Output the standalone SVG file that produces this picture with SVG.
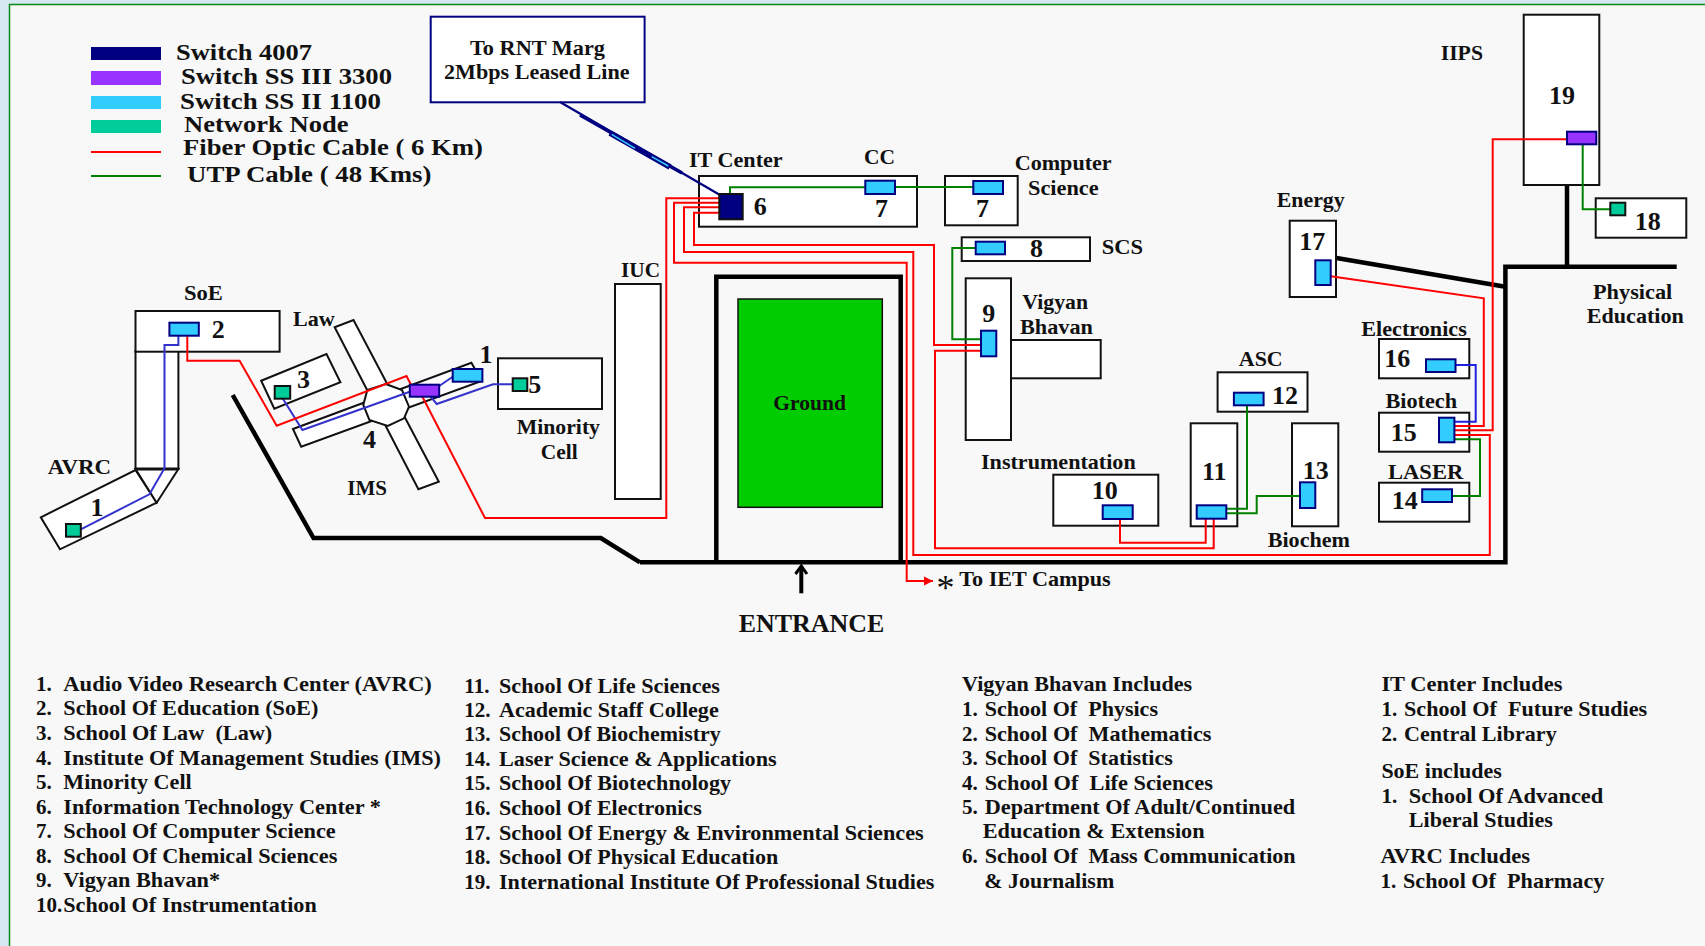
<svg xmlns="http://www.w3.org/2000/svg" width="1705" height="946" viewBox="0 0 1705 946">
<style>
text{font-family:"Liberation Serif","Times New Roman",serif;font-weight:700;fill:#111;white-space:pre}
.b{fill:#fff;stroke:#111;stroke-width:2}
.l{font-size:21px}.n{font-size:26px}.lg{font-size:23px}.en{font-size:25px}.t{font-size:21px}
.sw{fill:#33ccff;stroke:#000080;stroke-width:2}
.pu{fill:#9933ff;stroke:#000080;stroke-width:2}
.nd{fill:#00cc99;stroke:#111;stroke-width:2}
.r,.g,.u,.k{fill:none}
.r{stroke:#ff0000;stroke-width:2}
.g{stroke:#008000;stroke-width:2}
.u{stroke:#3333cc;stroke-width:2}
.k{stroke:#000;stroke-width:4.5}
</style>
<defs>
<marker id="redhead" markerUnits="userSpaceOnUse" markerWidth="10" markerHeight="10" refX="9" refY="5" orient="auto"><path d="M0,0.5 L9,5 L0,9.5 Z" fill="#ff0000"/></marker>
</defs>
<rect id="backdrop" width="1705" height="946" fill="#d5e9f3"/>
<rect id="panel" x="9.5" y="4.5" width="1700" height="946" fill="#f8f8f8" stroke="#0a8a1a" stroke-width="1.5"/>

<g id="legend">
<rect x="91" y="47" width="70" height="13" fill="#000080"/>
<rect x="91" y="71" width="70" height="14" fill="#9933ff"/>
<rect x="91" y="96" width="70" height="13" fill="#33ccff"/>
<rect x="91" y="120" width="70" height="13" fill="#00cc99"/>
<line x1="91" y1="152" x2="161" y2="152" stroke="#ff0000" stroke-width="2"/>
<line x1="91" y1="176" x2="161" y2="176" stroke="#008000" stroke-width="2"/>
<text class="lg" x="176" y="59.5" textLength="136" lengthAdjust="spacingAndGlyphs">Switch 4007</text>
<text class="lg" x="181" y="83.5" textLength="211" lengthAdjust="spacingAndGlyphs">Switch SS III 3300</text>
<text class="lg" x="180" y="108.5" textLength="201" lengthAdjust="spacingAndGlyphs">Switch SS II 1100</text>
<text class="lg" x="184" y="131.5" textLength="164.5" lengthAdjust="spacingAndGlyphs">Network Node</text>
<text class="lg" x="183" y="154.5" textLength="300" lengthAdjust="spacingAndGlyphs">Fiber Optic Cable ( 6 Km)</text>
<text class="lg" x="187" y="182" textLength="244.5" lengthAdjust="spacingAndGlyphs">UTP Cable ( 48 Kms)</text>
</g>

<g id="roads">
<polyline class="k" points="232.7,395 313.5,538 600.8,538 640,562.3"/>
<polyline class="k" points="716.3,562 716.3,276.7 900.7,276.7 900.7,562"/>
<polyline class="k" points="640,562.3 1505.4,562.3 1505.4,266.7 1676.7,266.7"/>
<line class="k" x1="1567" y1="183" x2="1567" y2="266.7"/>
<line class="k" x1="1335" y1="257.7" x2="1505.4" y2="286.7"/>
</g>

<g id="rnt">
<rect x="430.7" y="16.7" width="213.9" height="85.6" fill="#fff" stroke="#000080" stroke-width="2"/>
<text class="l" x="470" y="55" textLength="135" lengthAdjust="spacingAndGlyphs">To RNT Marg</text>
<text class="l" x="444" y="79" textLength="185.5" lengthAdjust="spacingAndGlyphs">2Mbps Leased Line</text>
</g>

<g id="n1-avrc">
<polygon class="b" points="135.5,470 156.7,502.7 60,549.3 40.8,517.3"/>
<text class="n" x="90.6" y="515.7">1</text>
<text class="l" x="47.8" y="474" textLength="63.2" lengthAdjust="spacingAndGlyphs">AVRC</text>
</g>
<g id="n2-soe">
<rect class="b" x="135.5" y="351" width="42.9" height="118"/>
<polygon class="b" points="135.5,469 178.4,469 156.7,502.7"/>
<line x1="135.5" y1="469" x2="178.4" y2="469" stroke="#111" stroke-width="3"/>
<rect class="b" x="135.5" y="311" width="144.1" height="40.7"/>
<text class="n" x="211.8" y="338.3">2</text>
<text class="l" x="184" y="300" textLength="38.9" lengthAdjust="spacingAndGlyphs">SoE</text>
</g>
<g id="n3-law">
<polygon class="b" points="261.2,380.7 326.5,354 340.4,382.3 274.3,408.7"/>
<text class="n" x="297" y="387.7">3</text>
<text class="l" x="293" y="326" textLength="41.7" lengthAdjust="spacingAndGlyphs">Law</text>
</g>
<g id="n4-ims">
<polygon class="b" points="334.7,327.3 353.5,320 438.8,481.7 418.4,489.3"/>
<polygon class="b" points="293,429 471.4,362.7 481.6,381 301.2,446.7"/>
<polygon class="b" points="385.7,384 402,390 409,406.7 404,418.3 387.8,426 369.4,420 363.3,405 367.3,390"/>
<text class="n" x="362.9" y="448.3">4</text>
<text class="n" x="479.6" y="363.3">1</text>
<text class="l" x="347.3" y="495" textLength="39.7" lengthAdjust="spacingAndGlyphs">IMS</text>
</g>
<g id="n5-minority">
<rect class="b" x="498" y="358.3" width="104" height="50.7"/>
<text class="n" x="528.2" y="393.3">5</text>
<text class="l" x="516.7" y="434" textLength="83.3" lengthAdjust="spacingAndGlyphs">Minority</text>
<text class="l" x="540.8" y="458.7" textLength="36.8" lengthAdjust="spacingAndGlyphs">Cell</text>
</g>
<g id="iuc">
<rect class="b" x="615" y="284" width="45.7" height="215"/>
<text class="l" x="621" y="277" textLength="39" lengthAdjust="spacingAndGlyphs">IUC</text>
</g>
<g id="n6-it">
<rect class="b" x="699" y="176" width="218" height="50.7"/>
<text class="n" x="753.7" y="215">6</text>
<text class="n" x="875" y="216.7">7</text>
<text class="l" x="689" y="166.7" textLength="93.7" lengthAdjust="spacingAndGlyphs">IT Center</text>
<text class="l" x="864" y="164" textLength="31" lengthAdjust="spacingAndGlyphs">CC</text>
</g>
<g id="n7-cs">
<rect class="b" x="945" y="176" width="72.7" height="49.3"/>
<text class="n" x="976" y="217">7</text>
<text class="l" x="1014.7" y="170" textLength="97" lengthAdjust="spacingAndGlyphs">Computer</text>
<text class="l" x="1028" y="195" textLength="70.7" lengthAdjust="spacingAndGlyphs">Science</text>
</g>
<g id="n8-scs">
<rect class="b" x="961.7" y="237.3" width="128.3" height="23.7"/>
<text class="n" x="1030" y="256.7">8</text>
<text class="l" x="1101.7" y="254" textLength="41.3" lengthAdjust="spacingAndGlyphs">SCS</text>
</g>
<g id="n9-vigyan">
<rect class="b" x="1011" y="340" width="89.7" height="38.3"/>
<rect class="b" x="965.7" y="278.3" width="45.3" height="161.7"/>
<text class="n" x="982.3" y="321.7">9</text>
<text class="l" x="1022.3" y="309.3" textLength="65.7" lengthAdjust="spacingAndGlyphs">Vigyan</text>
<text class="l" x="1020" y="334" textLength="73" lengthAdjust="spacingAndGlyphs">Bhavan</text>
</g>
<g id="n10-instrumentation">
<rect class="b" x="1053.3" y="474.7" width="105" height="51"/>
<text class="n" x="1091.7" y="499">10</text>
<text class="l" x="981" y="469.3" textLength="154.7" lengthAdjust="spacingAndGlyphs">Instrumentation</text>
</g>
<g id="n11-life">
<rect class="b" x="1190.7" y="423.3" width="46.6" height="103"/>
<text class="n" x="1202" y="480">11</text>
</g>
<g id="n12-asc">
<rect class="b" x="1217.6" y="372.3" width="89.9" height="39.4"/>
<text class="n" x="1272" y="404">12</text>
<text class="l" x="1238.8" y="365.7" textLength="43.9" lengthAdjust="spacingAndGlyphs">ASC</text>
</g>
<g id="n13-biochem">
<rect class="b" x="1292" y="423.3" width="46.3" height="103"/>
<text class="n" x="1302.7" y="479.3">13</text>
<text class="l" x="1267.7" y="546.7" textLength="82.3" lengthAdjust="spacingAndGlyphs">Biochem</text>
</g>
<g id="n14-laser">
<rect class="b" x="1379" y="482.7" width="90.3" height="39"/>
<text class="n" x="1391.8" y="509.3">14</text>
<text class="l" x="1388" y="478.7" textLength="75.3" lengthAdjust="spacingAndGlyphs">LASER</text>
</g>
<g id="n15-biotech">
<rect class="b" x="1379" y="412.7" width="90.3" height="39"/>
<text class="n" x="1390.7" y="440.7">15</text>
<text class="l" x="1385.4" y="408.3" textLength="71.6" lengthAdjust="spacingAndGlyphs">Biotech</text>
</g>
<g id="n16-electronics">
<rect class="b" x="1379" y="339" width="90.3" height="39.3"/>
<text class="n" x="1384.3" y="366.7">16</text>
<text class="l" x="1361.3" y="336" textLength="105.5" lengthAdjust="spacingAndGlyphs">Electronics</text>
</g>
<g id="n17-energy">
<rect class="b" x="1289.7" y="220.7" width="46.3" height="76.3"/>
<text class="n" x="1299.3" y="250">17</text>
<text class="l" x="1276.7" y="206.7" textLength="68" lengthAdjust="spacingAndGlyphs">Energy</text>
</g>
<g id="n18-physical">
<rect class="b" x="1595.7" y="198.3" width="90.6" height="39.4"/>
<text class="n" x="1634.7" y="230">18</text>
<text class="l" x="1593" y="298.7" textLength="79.3" lengthAdjust="spacingAndGlyphs">Physical</text>
<text class="l" x="1586.8" y="323.3" textLength="97" lengthAdjust="spacingAndGlyphs">Education</text>
</g>
<g id="n19-iips">
<rect class="b" x="1523.7" y="14.7" width="75.6" height="170.3"/>
<text class="n" x="1549" y="104">19</text>
<text class="l" x="1440.7" y="60" textLength="42.3" lengthAdjust="spacingAndGlyphs">IIPS</text>
</g>
<g id="ground">
<rect x="738" y="299" width="144.3" height="208.3" fill="#00cc00" stroke="#111" stroke-width="1.5"/>
<text class="l" x="773.3" y="410" textLength="72.7" lengthAdjust="spacingAndGlyphs">Ground</text>
</g>
<g id="entrance">
<line x1="801.3" y1="593.3" x2="801.3" y2="566" stroke="#000" stroke-width="4"/>
<polyline points="795.5,574 801.3,566 807,574" fill="none" stroke="#000" stroke-width="3"/>
<text class="en" x="738.7" y="631.8" textLength="145.6" lengthAdjust="spacingAndGlyphs">ENTRANCE</text>
</g>
<g id="iet">
<text x="936.5" y="600" style="font-size:36px;font-weight:400">*</text>
<text class="l" x="959.3" y="586" textLength="151.4" lengthAdjust="spacingAndGlyphs">To IET Campus</text>
</g>

<g id="connectors">
<line x1="560" y1="102" x2="720" y2="195" stroke="#000080" stroke-width="2.2"/>
<line x1="580" y1="115" x2="682" y2="173" stroke="#000080" stroke-width="3.5"/>
<line x1="610" y1="133" x2="670" y2="167" stroke="#000080" stroke-width="6"/>
<line x1="611.7" y1="134.3" x2="635" y2="148.3" stroke="#33ccff" stroke-width="1.5"/>
<line x1="651.7" y1="156.7" x2="668.3" y2="166" stroke="#33ccff" stroke-width="1.5"/>
<polyline class="g" points="730,194 730,187.3 865.3,187.3"/>
<line class="g" x1="895" y1="187" x2="973.3" y2="187"/>
<polyline class="g" points="975.7,248 952.3,248 952.3,339.3 981,339.3"/>
<polyline class="g" points="1226.3,508.7 1247,508.7 1247,405.3"/>
<polyline class="g" points="1226.3,513.3 1256.7,513.3 1256.7,496 1300,496"/>
<polyline class="g" points="1454.4,439.3 1480,439.3 1480,496 1452,496"/>
<polyline class="g" points="1582.7,144.3 1582.7,209.3 1610.3,209.3"/>
<polyline class="u" points="80.8,529.3 149.4,494.3 164.5,468.3 164.5,345 178.4,345 178.4,335.7"/>
<polyline class="u" points="282.9,398.7 302.4,430 409.8,391.7"/>
<line class="u" x1="439.2" y1="386" x2="452.7" y2="376.7"/>
<polyline class="u" points="430.6,396.7 436.7,404 493,384.3 512.7,384.3"/>
<polyline class="u" style="stroke:#2020e0" points="1455.5,365 1475.7,365 1475.7,421.7 1454.4,421.7"/>
<polyline class="r" points="187.3,335.7 187.3,360.7 239.6,360.7 276.7,425.7 406.5,376 411,384.7"/>
<polyline class="r" points="422.4,396.7 485,518 666.3,518 666.3,198.3 719.3,198.3"/>
<polyline class="r" marker-end="url(#redhead)" points="719.3,202.7 674,202.7 674,262.7 906.7,262.7 906.7,581 933,581"/>
<polyline class="r" points="719.3,207.3 684,207.3 684,252 913.3,252 913.3,555 1489.8,555 1489.8,435 1454.4,435"/>
<polyline class="r" points="719.3,212.7 694,212.7 694,245 934,245 934,345 981,345"/>
<polyline class="r" points="981,350.7 935,350.7 935,548.3 1213.7,548.3 1213.7,518.7"/>
<polyline class="r" points="1120,519 1120,542.7 1205.7,542.7 1205.7,518.7"/>
<polyline class="r" points="1454.4,426 1483.8,426 1483.8,298.3 1330.7,276.3"/>
<polyline class="r" points="1454.4,430.3 1492.7,430.3 1492.7,139.3 1567,139.3"/>
</g>

<g id="devices">
<rect id="sw-6" x="719.3" y="194" width="23.4" height="25.3" fill="#000080" stroke="#111" stroke-width="2"/>
<rect id="sw-7a" class="sw" x="865.3" y="180.7" width="29.7" height="13.3"/>
<rect id="sw-7b" class="sw" x="973.3" y="181" width="29.7" height="13"/>
<rect id="sw-8" class="sw" x="975.7" y="241.7" width="29.3" height="12.6"/>
<rect id="sw-9" class="sw" x="981" y="330.7" width="15.3" height="25.6"/>
<rect id="sw-10" class="sw" x="1102.7" y="505.3" width="30" height="13.7"/>
<rect id="sw-11" class="sw" x="1196.7" y="505.3" width="29.6" height="13.4"/>
<rect id="sw-12" class="sw" x="1233.9" y="392.7" width="29.7" height="12.6"/>
<rect id="sw-13" class="sw" x="1300" y="482.3" width="15.3" height="25.7"/>
<rect id="sw-14" class="sw" x="1422.2" y="489.3" width="29.8" height="12.7"/>
<rect id="sw-15" class="sw" x="1439" y="417.7" width="15.4" height="24.6"/>
<rect id="sw-16" class="sw" x="1426" y="359.3" width="29.5" height="12.7"/>
<rect id="sw-17" class="sw" x="1315.3" y="260.3" width="15.4" height="24.7"/>
<rect id="sw-19" class="pu" x="1567" y="131.7" width="29.3" height="12.6"/>
<rect id="sw-2" class="sw" x="169.4" y="322.7" width="29.4" height="13"/>
<rect id="sw-4" class="pu" x="409.8" y="384.7" width="29.4" height="12"/>
<rect id="sw-4b" class="sw" x="452.7" y="369" width="29.7" height="12.7"/>
<rect id="nd-1" class="nd" x="66" y="524" width="14.8" height="12.7"/>
<rect id="nd-3" class="nd" x="274.7" y="386" width="15.5" height="12.7"/>
<rect id="nd-5" class="nd" x="512.7" y="378.3" width="14.6" height="12.7"/>
<rect id="nd-18" class="nd" x="1610.3" y="202.7" width="15" height="12.6"/>
</g>

<g id="list-1">
<text class="t" x="36" y="690.7">1.</text><text class="t" x="63.3" y="690.7" textLength="368.4" lengthAdjust="spacingAndGlyphs">Audio Video Research Center (AVRC)</text>
<text class="t" x="36" y="715.3">2.</text><text class="t" x="63.3" y="715.3" textLength="255" lengthAdjust="spacingAndGlyphs">School Of Education (SoE)</text>
<text class="t" x="36" y="740">3.</text><text class="t" x="63.3" y="740" textLength="209" lengthAdjust="spacingAndGlyphs">School Of Law  (Law)</text>
<text class="t" x="36" y="764.7">4.</text><text class="t" x="63.3" y="764.7" textLength="377.7" lengthAdjust="spacingAndGlyphs">Institute Of Management Studies (IMS)</text>
<text class="t" x="36" y="789.3">5.</text><text class="t" x="63.3" y="789.3" textLength="128.4" lengthAdjust="spacingAndGlyphs">Minority Cell</text>
<text class="t" x="36" y="814">6.</text><text class="t" x="63.3" y="814" textLength="317.7" lengthAdjust="spacingAndGlyphs">Information Technology Center *</text>
<text class="t" x="36" y="838.3">7.</text><text class="t" x="63.3" y="838.3" textLength="272.4" lengthAdjust="spacingAndGlyphs">School Of Computer Science</text>
<text class="t" x="36" y="862.7">8.</text><text class="t" x="63.3" y="862.7" textLength="274" lengthAdjust="spacingAndGlyphs">School Of Chemical Sciences</text>
<text class="t" x="36" y="887.3">9.</text><text class="t" x="63.3" y="887.3" textLength="156.7" lengthAdjust="spacingAndGlyphs">Vigyan Bhavan*</text>
<text class="t" x="36" y="911.7">10.</text><text class="t" x="63.3" y="911.7" textLength="253.4" lengthAdjust="spacingAndGlyphs">School Of Instrumentation</text>
</g>
<g id="list-2">
<text class="t" x="464.3" y="692.7">11.</text><text class="t" x="499" y="692.7" textLength="221" lengthAdjust="spacingAndGlyphs">School Of Life Sciences</text>
<text class="t" x="464.3" y="716.7">12.</text><text class="t" x="499" y="716.7" textLength="219.7" lengthAdjust="spacingAndGlyphs">Academic Staff College</text>
<text class="t" x="464.3" y="741">13.</text><text class="t" x="499" y="741" textLength="221.7" lengthAdjust="spacingAndGlyphs">School Of Biochemistry</text>
<text class="t" x="464.3" y="765.7">14.</text><text class="t" x="499" y="765.7" textLength="277.7" lengthAdjust="spacingAndGlyphs">Laser Science &amp; Applications</text>
<text class="t" x="464.3" y="790">15.</text><text class="t" x="499" y="790" textLength="232" lengthAdjust="spacingAndGlyphs">School Of Biotechnology</text>
<text class="t" x="464.3" y="815">16.</text><text class="t" x="499" y="815" textLength="202.7" lengthAdjust="spacingAndGlyphs">School Of Electronics</text>
<text class="t" x="464.3" y="840">17.</text><text class="t" x="499" y="840" textLength="424.7" lengthAdjust="spacingAndGlyphs">School Of Energy &amp; Environmental Sciences</text>
<text class="t" x="464.3" y="864">18.</text><text class="t" x="499" y="864" textLength="279.3" lengthAdjust="spacingAndGlyphs">School Of Physical Education</text>
<text class="t" x="464.3" y="888.7">19.</text><text class="t" x="499" y="888.7" textLength="435.3" lengthAdjust="spacingAndGlyphs">International Institute Of Professional Studies</text>
</g>
<g id="list-3">
<text class="t" x="962" y="690.7" textLength="230.2" lengthAdjust="spacingAndGlyphs">Vigyan Bhavan Includes</text>
<text class="t" x="962" y="715.7">1.</text><text class="t" x="984.7" y="715.7" textLength="173.3" lengthAdjust="spacingAndGlyphs">School Of  Physics</text>
<text class="t" x="962" y="740.7">2.</text><text class="t" x="984.7" y="740.7" textLength="226.7" lengthAdjust="spacingAndGlyphs">School Of  Mathematics</text>
<text class="t" x="962" y="765">3.</text><text class="t" x="984.7" y="765" textLength="188.2" lengthAdjust="spacingAndGlyphs">School Of  Statistics</text>
<text class="t" x="962" y="789.7">4.</text><text class="t" x="984.7" y="789.7" textLength="228.2" lengthAdjust="spacingAndGlyphs">School Of  Life Sciences</text>
<text class="t" x="962" y="814">5.</text><text class="t" x="984.7" y="814" textLength="310.5" lengthAdjust="spacingAndGlyphs">Department Of Adult/Continued</text>
<text class="t" x="982.7" y="838.3" textLength="222" lengthAdjust="spacingAndGlyphs">Education &amp; Extension</text>
<text class="t" x="962" y="863">6.</text><text class="t" x="984.7" y="863" textLength="311" lengthAdjust="spacingAndGlyphs">School Of  Mass Communication</text>
<text class="t" x="984.2" y="887.7" textLength="130" lengthAdjust="spacingAndGlyphs">&amp; Journalism</text>
</g>
<g id="list-4">
<text class="t" x="1381.4" y="690.7" textLength="181" lengthAdjust="spacingAndGlyphs">IT Center Includes</text>
<text class="t" x="1381.4" y="715.7">1.</text><text class="t" x="1404" y="715.7" textLength="243.2" lengthAdjust="spacingAndGlyphs">School Of  Future Studies</text>
<text class="t" x="1381.4" y="740.7">2.</text><text class="t" x="1404" y="740.7" textLength="152.7" lengthAdjust="spacingAndGlyphs">Central Library</text>
<text class="t" x="1381.4" y="777.7" textLength="120.4" lengthAdjust="spacingAndGlyphs">SoE includes</text>
<text class="t" x="1381.4" y="802.7">1.</text><text class="t" x="1408.8" y="802.7" textLength="194.5" lengthAdjust="spacingAndGlyphs">School Of Advanced</text>
<text class="t" x="1408.8" y="826.7" textLength="144" lengthAdjust="spacingAndGlyphs">Liberal Studies</text>
<text class="t" x="1380.4" y="862.7" textLength="149.8" lengthAdjust="spacingAndGlyphs">AVRC Includes</text>
<text class="t" x="1380.4" y="888">1.</text><text class="t" x="1403" y="888" textLength="201.3" lengthAdjust="spacingAndGlyphs">School Of  Pharmacy</text>
</g>
</svg>
